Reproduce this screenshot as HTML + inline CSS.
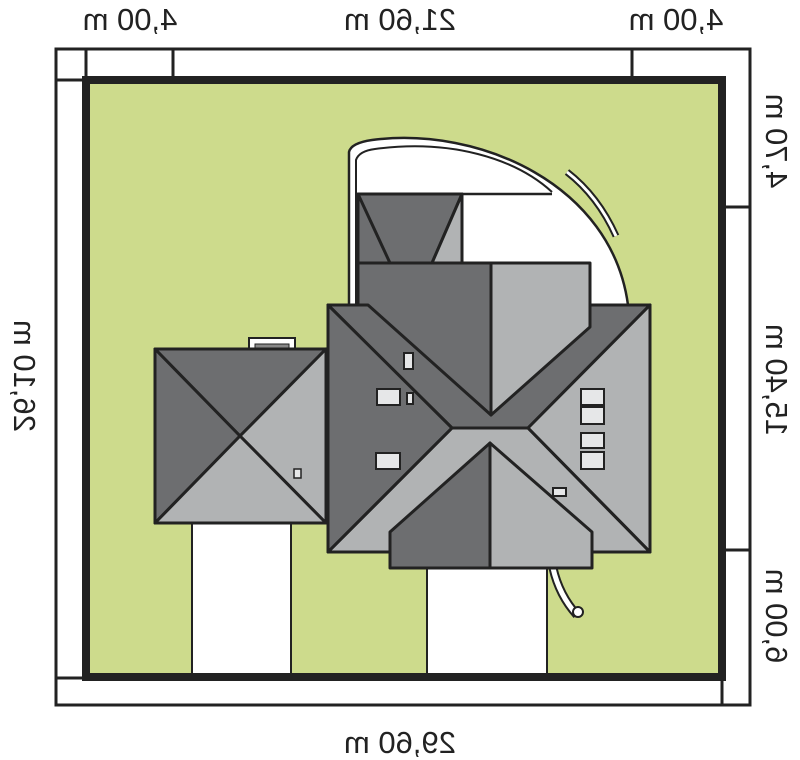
<!DOCTYPE html>
<html><head><meta charset="utf-8"><style>
html,body{margin:0;padding:0;background:#fff;}
svg{display:block;}
text{font-family:"Liberation Sans",sans-serif;font-size:31px;fill:#222;}
</style></head><body>
<svg width="800" height="760" viewBox="0 0 800 760" xmlns="http://www.w3.org/2000/svg">
<g stroke="#222" stroke-width="3" fill="none">
<rect x="56" y="49" width="694" height="656"/>
<line x1="86" y1="49" x2="86" y2="80"/>
<line x1="173" y1="49" x2="173" y2="80"/>
<line x1="632" y1="49" x2="632" y2="80"/>
<line x1="56" y1="80" x2="86" y2="80"/>
<line x1="722" y1="207" x2="750" y2="207"/>
<line x1="722" y1="550" x2="750" y2="550"/>
<line x1="56" y1="678" x2="86" y2="678"/>
<line x1="722" y1="678" x2="722" y2="705"/>
</g>
<rect x="86" y="80" width="636" height="597" fill="#cddb8c" stroke="#222" stroke-width="8"/>
<rect x="192" y="520" width="99" height="154" fill="#fff" stroke="#222" stroke-width="2"/>
<rect x="427" y="565" width="120" height="109" fill="#fff" stroke="#222" stroke-width="2"/>
<path d="M349,305 L349,152 Q351,143 372,140 C480,126 612,185 628,305 Z" fill="#fff" stroke="#222" stroke-width="2.5"/>
<path d="M356,305 L356,160 Q359,151 375,149 C450,139 515,158 552,192" fill="none" stroke="#222" stroke-width="2"/>
<path d="M567,172 Q598,196 616,236" fill="none" stroke="#222" stroke-width="7"/>
<path d="M567,172 Q598,196 616,236" fill="none" stroke="#fff" stroke-width="3"/>
<line x1="358" y1="194" x2="552" y2="194" stroke="#222" stroke-width="2.5"/>
<path d="M553,568 C558,590 568,605 577,615" fill="none" stroke="#222" stroke-width="9"/>
<path d="M553,568 C558,590 568,605 577,615" fill="none" stroke="#fff" stroke-width="5"/>
<circle cx="578" cy="612" r="5" fill="#fff" stroke="#222" stroke-width="2"/>
<rect x="249" y="338" width="46" height="12" fill="#fff" stroke="#222" stroke-width="2"/>
<rect x="255" y="344" width="34" height="5" fill="#888" stroke="#222" stroke-width="1"/>
<g stroke="#222" stroke-width="3" stroke-linejoin="round">
<polygon points="155,349 326,349 240,436" fill="#6d6e70"/>
<polygon points="155,349 240,436 155,523" fill="#6d6e70"/>
<polygon points="326,349 326,523 240,436" fill="#b1b3b4"/>
<polygon points="155,523 240,436 326,523" fill="#b1b3b4"/>
</g>
<rect x="294" y="469" width="7" height="9" fill="#e6e7e8" stroke="#222" stroke-width="1.5"/>
<g stroke="#222" stroke-width="3" stroke-linejoin="round">
<rect x="328" y="305" width="322" height="247" fill="#b1b3b4"/>
<polygon points="328,305 650,305 528,428 452,428" fill="#6d6e70"/>
<polygon points="328,305 452,428 328,552" fill="#6d6e70"/>
<polygon points="650,305 650,552 528,428" fill="#b1b3b4"/>
<line x1="452" y1="428" x2="328" y2="552"/>
<line x1="528" y1="428" x2="650" y2="552"/>
<polygon points="358,263 491,263 491,415 368,305 358,305" fill="#6d6e70"/>
<polygon points="491,263 590,263 590,327 491,415" fill="#b1b3b4"/>
<rect x="358" y="194" width="104" height="69" fill="#6d6e70"/>
<polygon points="358,194 462,194 432,263 390,263" fill="#6d6e70"/>
<polygon points="462,194 462,263 432,263" fill="#b1b3b4"/>
<polygon points="390,532 490,443 490,568 390,568" fill="#6d6e70"/>
<polygon points="490,443 592,532 592,568 490,568" fill="#b1b3b4"/>
</g>
<g fill="#e6e7e8" stroke="#222" stroke-width="2">
<rect x="377" y="389" width="23" height="16"/>
<rect x="376" y="453" width="24" height="16"/>
<rect x="404" y="353" width="9" height="16"/>
<rect x="407" y="393" width="6" height="11"/>
<rect x="581" y="389" width="23" height="16"/>
<rect x="581" y="407" width="23" height="17"/>
<rect x="581" y="433" width="23" height="15"/>
<rect x="581" y="452" width="23" height="17"/>
<rect x="553" y="488" width="13" height="8"/>
</g>
<text transform="translate(130,30) scale(-1,1)" text-anchor="middle">4,00 m</text>
<text transform="translate(400,30) scale(-1,1)" text-anchor="middle">21,60 m</text>
<text transform="translate(676,30) scale(-1,1)" text-anchor="middle">4,00 m</text>
<text transform="translate(400,753) scale(-1,1)" text-anchor="middle">29,60 m</text>
<text transform="translate(766,141) rotate(90) scale(-1,1)" text-anchor="middle">4,70 m</text>
<text transform="translate(766,380) rotate(90) scale(-1,1)" text-anchor="middle">15,40 m</text>
<text transform="translate(766,616) rotate(90) scale(-1,1)" text-anchor="middle">6,00 m</text>
<text transform="translate(14,376) rotate(90) scale(-1,1)" text-anchor="middle">26,10 m</text>
</svg>
</body></html>
